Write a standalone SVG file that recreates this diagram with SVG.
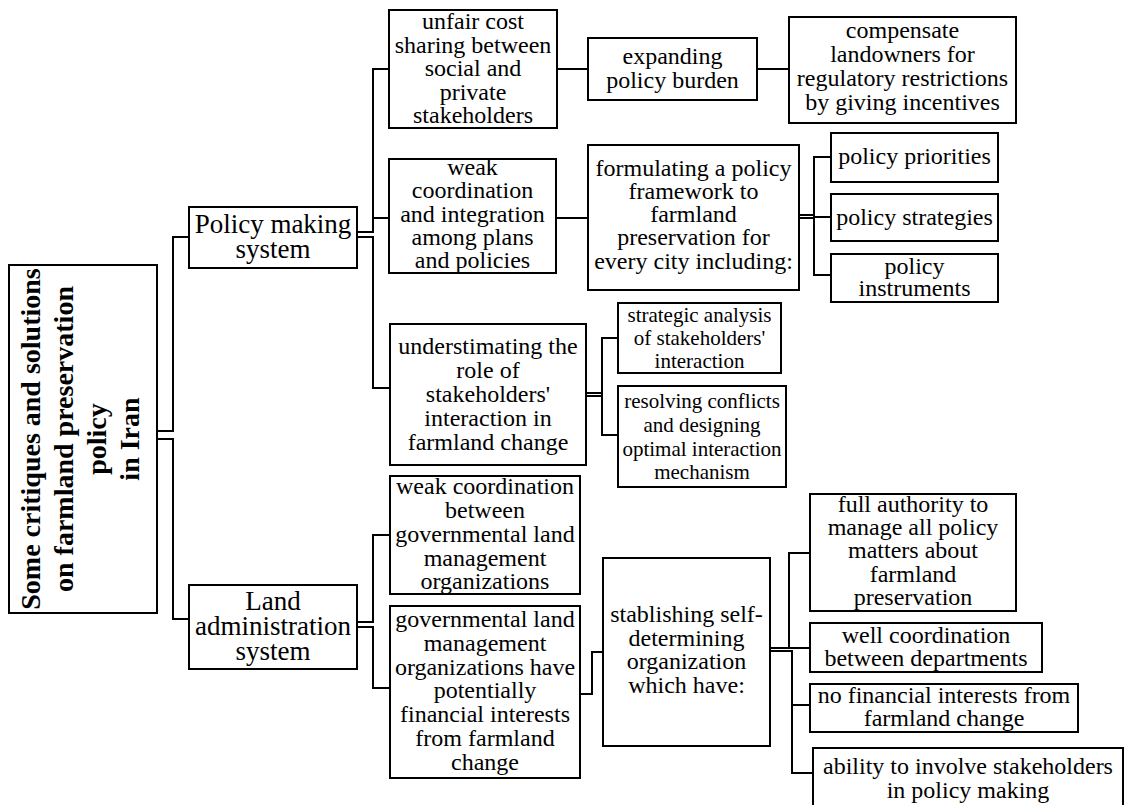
<svg xmlns="http://www.w3.org/2000/svg" width="1127" height="805" viewBox="0 0 1127 805">
<style>
.box{fill:#fff;stroke:#000;stroke-width:2}
.t{font-family:"Liberation Serif","Times New Roman",serif;font-size:24px;text-anchor:middle;fill:#000}
.t1{font-size:27px}
.t2{font-size:21px}
.rt{font-size:28px;font-weight:bold}
.c{fill:none;stroke:#000;stroke-width:2}
</style>
<rect width="1127" height="805" fill="#fff"/>
<g id="connectors">
<path class="c" d="M157,431 H173 V237 H189"/>
<path class="c" d="M157,439 H173 V619 H189"/>
<path class="c" d="M357,232 H373 V69 H389"/>
<path class="c" d="M357,237 H373 V388 H390"/>
<path class="c" d="M373,218 H389"/>
<path class="c" d="M357,622 H373 V535 H390"/>
<path class="c" d="M357,627 H373 V688 H390"/>
<path class="c" d="M557,69 H588"/>
<path class="c" d="M757,69 H789"/>
<path class="c" d="M556,218 H588"/>
<path class="c" d="M799,215 H814 M799,218 H814"/>
<path class="c" d="M831,157 H814 V275 H831 M814,217 H831"/>
<path class="c" d="M586,393 H602 M586,396 H602"/>
<path class="c" d="M618,338 H602 V435 H618"/>
<path class="c" d="M580,694 H592 V652 H603"/>
<path class="c" d="M770,648 H789 V553 H810 M789,648 H810"/>
<path class="c" d="M770,651 H792 V773 H813 M792,705 H810"/>
</g>
<g id="root">
<rect class="box" x="9" y="265" width="148" height="348"/>
<text class="t rt" transform="translate(83,439) rotate(-90)"><tspan x="0" y="-43">Some critiques and solutions</tspan><tspan x="0" y="-10">on farmland preservation</tspan><tspan x="0" y="23">policy</tspan><tspan x="0" y="56">in Iran</tspan></text>
</g>
<g id="policy-making">
<rect class="box" x="189" y="207" width="168" height="61"/>
<text class="t t1"><tspan x="273" y="233">Policy making</tspan><tspan x="273" y="258">system</tspan></text>
</g>
<g id="land-admin">
<rect class="box" x="189" y="585" width="168" height="84"/>
<text class="t t1"><tspan x="273" y="610">Land</tspan><tspan x="273" y="635">administration</tspan><tspan x="273" y="660">system</tspan></text>
</g>
<g id="unfair">
<rect class="box" x="389" y="10" width="168" height="118"/>
<text class="t"><tspan x="473" y="29">unfair cost</tspan><tspan x="473" y="53">sharing between</tspan><tspan x="473" y="76">social and</tspan><tspan x="473" y="100">private</tspan><tspan x="473" y="123">stakeholders</tspan></text>
</g>
<g id="weak-integration">
<rect class="box" x="389" y="159" width="167" height="114"/>
<text class="t"><tspan x="472.5" y="175">weak</tspan><tspan x="472.5" y="198">coordination</tspan><tspan x="472.5" y="222">and integration</tspan><tspan x="472.5" y="245">among plans</tspan><tspan x="472.5" y="268">and policies</tspan></text>
</g>
<g id="understimating">
<rect class="box" x="390" y="324" width="196" height="141"/>
<text class="t"><tspan x="488" y="354">understimating the</tspan><tspan x="488" y="378">role of</tspan><tspan x="488" y="402">stakeholders'</tspan><tspan x="488" y="426">interaction in</tspan><tspan x="488" y="450">farmland change</tspan></text>
</g>
<g id="weak-between">
<rect class="box" x="390" y="476" width="190" height="118"/>
<text class="t"><tspan x="485" y="494">weak coordination</tspan><tspan x="485" y="518">between</tspan><tspan x="485" y="542">governmental land</tspan><tspan x="485" y="566">management</tspan><tspan x="485" y="589">organizations</tspan></text>
</g>
<g id="governmental">
<rect class="box" x="390" y="606" width="190" height="172"/>
<text class="t"><tspan x="485" y="627">governmental land</tspan><tspan x="485" y="651">management</tspan><tspan x="485" y="675">organizations have</tspan><tspan x="485" y="698">potentially</tspan><tspan x="485" y="722">financial interests</tspan><tspan x="485" y="746">from farmland</tspan><tspan x="485" y="770">change</tspan></text>
</g>
<g id="expanding">
<rect class="box" x="588" y="38" width="169" height="62"/>
<text class="t"><tspan x="672.5" y="64">expanding</tspan><tspan x="672.5" y="88">policy burden</tspan></text>
</g>
<g id="compensate">
<rect class="box" x="789" y="17" width="227" height="106"/>
<text class="t"><tspan x="902.5" y="38">compensate</tspan><tspan x="902.5" y="62">landowners for</tspan><tspan x="902.5" y="86">regulatory restrictions</tspan><tspan x="902.5" y="110">by giving incentives</tspan></text>
</g>
<g id="formulating">
<rect class="box" x="588" y="145" width="211" height="145"/>
<text class="t"><tspan x="693.5" y="176">formulating a policy</tspan><tspan x="693.5" y="199">framework to</tspan><tspan x="693.5" y="222">farmland</tspan><tspan x="693.5" y="245">preservation for</tspan><tspan x="693.5" y="269">every city including:</tspan></text>
</g>
<g id="priorities">
<rect class="box" x="831" y="133" width="167" height="49"/>
<text class="t" x="914.5" y="164">policy priorities</text>
</g>
<g id="strategies">
<rect class="box" x="831" y="194" width="167" height="47"/>
<text class="t" x="914.5" y="225">policy strategies</text>
</g>
<g id="instruments">
<rect class="box" x="831" y="254" width="167" height="48"/>
<text class="t"><tspan x="914.5" y="274">policy</tspan><tspan x="914.5" y="296">instruments</tspan></text>
</g>
<g id="strategic">
<rect class="box" x="618" y="303" width="163" height="70"/>
<text class="t t2"><tspan x="699.5" y="322">strategic analysis</tspan><tspan x="699.5" y="345">of stakeholders'</tspan><tspan x="699.5" y="368">interaction</tspan></text>
</g>
<g id="resolving">
<rect class="box" x="618" y="386" width="168" height="101"/>
<text class="t t2"><tspan x="702" y="408">resolving conflicts</tspan><tspan x="702" y="432">and designing</tspan><tspan x="702" y="456">optimal interaction</tspan><tspan x="702" y="479">mechanism</tspan></text>
</g>
<g id="stablishing">
<rect class="box" x="603" y="558" width="167" height="188"/>
<text class="t"><tspan x="686.5" y="622">stablishing self-</tspan><tspan x="686.5" y="646">determining</tspan><tspan x="686.5" y="669">organization</tspan><tspan x="686.5" y="693">which have:</tspan></text>
</g>
<g id="full-authority">
<rect class="box" x="810" y="494" width="206" height="117"/>
<text class="t"><tspan x="913" y="512">full authority to</tspan><tspan x="913" y="535">manage all policy</tspan><tspan x="913" y="558">matters about</tspan><tspan x="913" y="582">farmland</tspan><tspan x="913" y="605">preservation</tspan></text>
</g>
<g id="well-coordination">
<rect class="box" x="810" y="623" width="232" height="49"/>
<text class="t"><tspan x="926" y="643">well coordination</tspan><tspan x="926" y="666">between departments</tspan></text>
</g>
<g id="no-financial">
<rect class="box" x="810" y="684" width="268" height="48"/>
<text class="t"><tspan x="944" y="703">no financial interests from</tspan><tspan x="944" y="726">farmland change</tspan></text>
</g>
<g id="ability">
<rect class="box" x="813" y="748" width="310" height="60"/>
<text class="t"><tspan x="968" y="774">ability to involve stakeholders</tspan><tspan x="968" y="798">in policy making</tspan></text>
</g>
</svg>
